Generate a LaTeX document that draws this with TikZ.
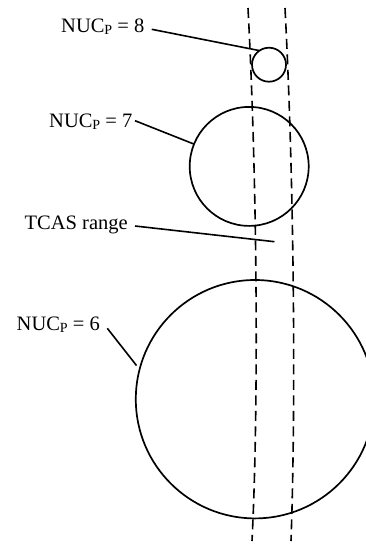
\documentclass[tikz,border=0pt]{standalone}
\usepackage{fontspec}
\setmainfont{Liberation Serif}
\newcommand{\nucp}[1]{NUC{\fontsize{14}{14}\selectfont\raisebox{-2pt}{P}} = #1}
\begin{document}
\begin{tikzpicture}[x=1pt,y=-1pt,
  lbl/.style={inner sep=0pt, anchor=base west, font=\fontsize{20.5}{24}\selectfont},
  circ/.style={draw, circle, line width=1.7pt, inner sep=0pt, outer sep=0pt},
  leader/.style={line width=1.6pt},
  bound/.style={line width=1.6pt, dash pattern=on 10pt off 5.5pt}]
\useasboundingbox (0,0) rectangle (366,544);
\clip (0,0) rectangle (366,544);
% TCAS range boundaries
\coordinate (la) at (248,8);
\coordinate (lb) at (252,541);
\coordinate (ra) at (285,8);
\coordinate (rb) at (291,541);
\draw[bound] (la) .. controls (257,180) and (259,400) .. (lb);
\draw[bound] (ra) .. controls (294,180) and (296,400) .. (rb);
% circles
\node[circ, minimum size=34pt] (c8) at (269,64.7) {};
\node[circ, minimum size=119pt] (c7) at (249.2,166.4) {};
\node[circ, minimum size=238.4pt] (c6) at (255,399.2) {};
% labels
\node[lbl] (t8) at (61,32) {\nucp{8}};
\node[lbl] (t7) at (49,127.7) {\nucp{7}};
\node[lbl] (tc) at (24.5,229.5) {TCAS range};
\node[lbl] (t6) at (16.5,330) {\nucp{6}};
% leader ends
\coordinate (s8) at (151.7,29.3);
\coordinate (s7) at (135,120.7);
\coordinate (sc) at (135,226);
\coordinate (ec) at (274.5,241.7);
\coordinate (s6) at (107.3,328.3);
\coordinate (e6) at (136.5,365.5);
\draw[leader] (s8) -- (c8.124.7);
\draw[leader] (s7) -- (c7.158.4);
\draw[leader] (sc) -- (ec);
\draw[leader] (s6) -- (e6);
\end{tikzpicture}
\end{document}
